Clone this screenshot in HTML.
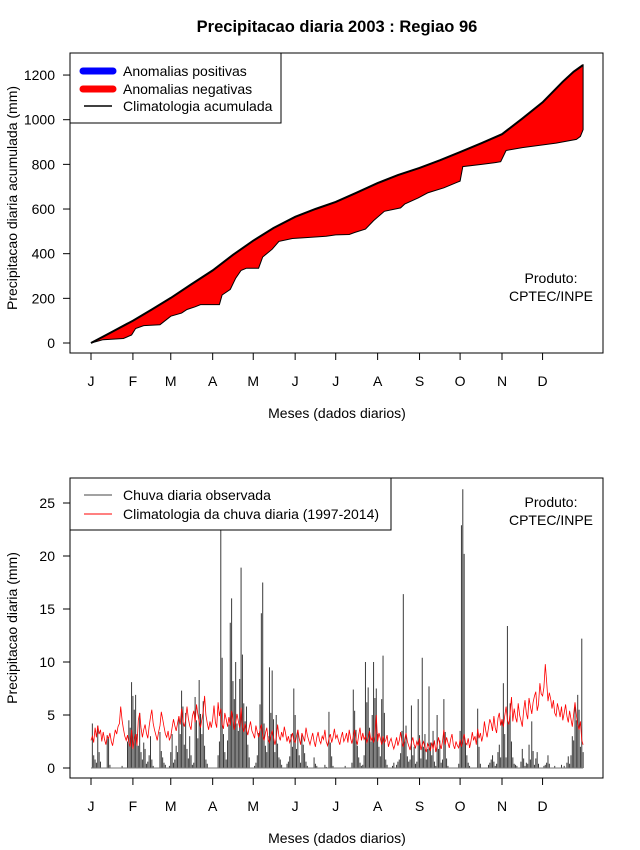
<!DOCTYPE html>
<html><head><meta charset="utf-8"><style>
body{margin:0;background:#fff}
svg{display:block;font-family:"Liberation Sans",sans-serif}
</style></head><body>
<svg id="c" width="640" height="850" xmlns="http://www.w3.org/2000/svg"></svg>
<script>
// ---- data ----
const months = ["J","F","M","A","M","J","J","A","S","O","N","D"];
const monthStartDays = [1,32,60,91,121,152,182,213,244,274,305,335];
const topTicks = [0,200,400,600,800,1000,1200];
const bottomTicks = [0,5,10,15,20,25];
const climCumDays = [1,15,32,46,60,75,91,106,121,136,152,167,182,197,213,228,244,259,274,290,305,320,335,350,358,365];
const climCumVals = [0,45,100,150,202,262,325,395,458,515,565,600,632,672,716,752,784,818,855,895,935,1005,1078,1170,1215,1245];
const obsCumDays = [1,10,25,31,34,40,52,60,68,72,78,82,88,96,98,104,108,112,116,125,128,135,140,150,160,175,182,192,196,204,210,218,230,233,243,250,262,272,274,276,290,300,304,308,320,345,360,363,365];
const obsCumVals = [0,15,20,36,65,78,82,120,134,150,162,172,172,172,215,240,290,325,335,335,385,420,455,468,472,478,484,486,495,510,548,590,605,622,650,672,695,720,725,790,800,808,812,862,875,895,912,925,955];
const obsDaily = [
0,4.2,1.2,0.8,0.5,4,1.5,0.6,0,0,0,0,3.1,2.8,0.3,0,0,0,0,0,0,0,0,0.2,0,0,0,2.5,4.5,3.8,8.1,
6.8,5.5,6.9,3.2,2.1,5.2,1.5,0.8,2.4,1.8,0.4,0.6,1.2,3,0.8,0.2,0,0,0,0,3.4,1.6,1.0,0.5,0.3,0,0,0.2,
1.5,3.2,0.5,0.8,2.1,1.5,4.6,3.2,7.3,5.8,2.2,5.2,1.8,0.9,3.0,1.2,0.3,0.5,6.7,4.5,2.8,8.3,5.1,3.2,6.3,2.1,0.8,0.4,0,0,0,
0,0,0,0,1.2,2.5,27,10.4,3.2,1.5,0.8,2.6,4.1,13.7,16,8.2,6.5,10,4.2,3.5,8.4,18.9,10.7,6.1,4.4,5.8,2.2,1.0,0,0,
0,0.2,0.5,1.2,3.3,6.0,14.6,17.5,4.2,2.1,1.5,3.0,9.5,5.2,9.2,4.6,1.5,5.0,2.3,1.0,0.8,0.3,0,0,0,0.4,0.6,1.1,3.2,2.0,7.5,
5.0,1.8,3.6,1.2,0.5,3.1,2.2,1.4,0.6,0.2,0,0,0,0,1.0,0.4,0.2,0,0,0,0,0,0.3,0.1,0,5.3,2.4,1.1,0.2,0,
0,0,0,0,0,0,0,0.2,0,0,0,0,0.5,7.4,5.4,3.6,2.1,1.0,0.5,0.2,0.3,1.2,10,6.2,7.6,3.8,2.5,5.0,10,6.6,7.5,
3.2,2.0,1.1,6.5,10.6,5.2,0.8,0.3,0,0,0,0.2,0.5,0,0.3,0.6,0.8,1.4,3.5,16.4,2.5,4.0,1.1,0.6,0.8,5.9,1.2,2.0,0.4,0.6,6.5,
3.1,0.9,10.4,2.0,3.2,0.8,1.8,7.7,2.4,1.2,3.5,0.6,0.2,5.0,1.8,2.6,0.5,0.8,6.5,3.4,0.9,0.2,0,0,0,0,0,0,0,0.4,
3.5,22.9,26.3,20.2,2.4,1.2,0.5,0.2,0,0,0,0,0,5.6,2.0,0.4,0,0,0,0,0,0.3,0.5,0.8,1.2,0.6,0.2,0.4,1.5,2.2,1.0,
4.5,8.0,3.2,1.0,13.4,4.2,6.1,2.5,1.0,0.4,0.3,0.2,0,0,0.6,1.8,0.9,0.2,0.5,0.4,2.2,0.8,4.4,1.6,0.3,0.9,1.5,0.4,0,0,
0,0.2,0.3,0.5,1.2,0.4,0,0,0,0.2,0,0,0,0,0.3,0,0.2,0,0.5,1.1,0.4,1.2,3.0,2.6,5.8,4.5,6.9,5.5,2.0,12.2,1.5];
const climDaily = [
2.6,3.0,2.4,3.8,2.9,4.0,3.2,3.6,2.5,3.4,2.7,2.2,3.0,2.8,3.3,2.5,2.1,2.9,3.6,3.2,3.9,4.2,5.8,4.5,3.7,3.0,2.6,3.1,2.4,2.0,3.6,
1.8,2.6,3.2,2.1,4.5,5.2,3.8,2.9,3.6,4.1,3.3,2.8,3.9,4.8,5.5,4.2,3.6,3.1,2.6,3.4,4.0,5.3,4.6,3.9,3.2,2.9,3.5,2.6,
3.0,3.8,4.6,4.0,3.5,4.2,4.9,4.1,5.6,4.4,3.9,4.5,5.8,4.7,4.0,3.6,4.9,5.4,4.3,6.0,5.1,4.4,3.8,4.6,5.3,6.8,5.0,4.2,3.6,4.4,3.8,
4.6,5.9,4.3,3.8,6.2,4.9,5.6,4.1,3.7,5.2,4.6,3.9,4.8,4.0,5.4,4.5,3.6,4.3,5.1,4.4,3.8,5.7,3.9,3.4,4.2,3.6,3.1,3.8,4.4,3.5,
3.2,2.8,4.0,3.4,2.9,3.6,4.1,3.0,2.6,3.3,3.8,2.7,2.4,3.1,3.5,2.9,2.2,2.8,4.1,3.0,2.6,3.4,2.9,3.9,3.2,2.5,3.0,2.4,2.8,3.3,2.6,
2.4,3.0,3.6,2.8,2.2,3.3,2.9,2.5,3.8,3.1,2.6,2.2,2.8,3.3,2.5,2.0,2.9,3.4,2.6,2.3,3.0,2.7,3.6,2.5,2.1,2.8,3.2,2.4,2.9,3.7,
2.8,3.1,2.6,2.2,2.9,3.4,2.5,2.8,3.3,2.4,3.6,2.8,2.3,3.0,3.6,2.7,2.2,3.1,3.8,2.6,3.3,2.7,3.0,2.4,2.8,3.5,2.6,2.9,2.4,3.0,5.0,
2.5,3.3,2.8,2.2,3.0,2.4,2.6,3.1,2.0,2.5,2.8,2.2,1.8,2.3,2.9,2.1,2.6,3.4,2.4,2.0,2.7,3.3,2.5,2.1,1.7,2.4,2.9,2.2,1.9,2.5,2.1,
2.8,1.7,2.2,2.5,1.9,1.5,2.3,2.0,1.6,2.4,1.8,2.6,1.5,2.1,2.9,2.3,1.8,2.5,3.6,2.2,2.9,2.4,1.9,2.7,3.2,2.2,1.8,2.5,2.1,1.9,
2.7,2.0,2.6,3.2,2.4,2.2,2.8,1.9,2.5,3.4,2.6,3.0,2.2,3.7,2.8,3.3,2.5,3.1,4.4,3.5,2.9,3.8,4.6,4.2,3.5,4.9,3.8,3.3,4.7,5.2,4.0,
4.6,3.9,4.9,5.8,4.5,4.1,5.2,6.7,4.4,5.6,4.8,4.3,6.1,5.0,4.5,3.9,5.4,6.4,5.2,4.6,6.6,5.8,5.1,6.2,6.8,7.2,5.4,6.0,8.0,7.0,
6.8,7.6,9.8,8.2,6.3,7.1,6.5,5.6,6.4,5.2,4.9,6.1,5.5,4.8,5.8,4.5,5.2,6.0,4.9,4.3,5.4,4.6,3.9,5.1,6.2,5.0,4.1,3.6,4.4,2.6,2.2];

// ---- helpers ----
const svg = document.getElementById('c');
const NS = 'http://www.w3.org/2000/svg';
function mk(tag, attrs, parent){const e=document.createElementNS(NS,tag);for(const k in attrs)e.setAttribute(k,attrs[k]);(parent||svg).appendChild(e);return e;}
const xDay = d => 91 + (d-1)*1.352;
const yTop = v => 343 - v*0.2233;
const yBot = v => 768 - v*10.6;
const FS = 14;

// title
let t = mk('text',{x:337,y:32,'text-anchor':'middle','font-size':16.5,'font-weight':'bold'});
t.textContent='Precipitacao diaria 2003 : Regiao 96';



function drawAxes(top, bottom, yfun, ticks, ylabel, ylabelY, prefix){
  const box = mk('rect',{x:70,y:top,width:533,height:bottom-top,fill:'none',stroke:'#000','stroke-width':1});
  
  
  ticks.forEach(v=>{
    const y=yfun(v);
    mk('line',{x1:63,x2:70,y1:y,y2:y,stroke:'#000'});
    const l=mk('text',{x:55,y:y+5,'text-anchor':'end','font-size':FS});
    l.textContent=v;
    
    
  });
  months.forEach((m,i)=>{
    const x=xDay(monthStartDays[i]);
    mk('line',{x1:x,x2:x,y1:bottom,y2:bottom+7,stroke:'#000'});
    const l=mk('text',{x:x,y:bottom+33,'text-anchor':'middle','font-size':FS});
    l.textContent=m;
    
    
  });
  const xl=mk('text',{x:337,y:bottom+65,'text-anchor':'middle','font-size':FS});
  xl.textContent='Meses (dados diarios)';
  
  
  const yl=mk('text',{x:0,y:0,'text-anchor':'middle','font-size':FS,transform:`translate(17,${ylabelY}) rotate(-90)`});
  yl.textContent=ylabel;
  
  
}

// ---- top chart ----
drawAxes(53,353,yTop,topTicks,'Precipitacao diaria acumulada (mm)',198,'top');
let pts=[];
climCumDays.forEach((d,i)=>pts.push(xDay(d).toFixed(1)+','+yTop(climCumVals[i]).toFixed(1)));
for(let i=obsCumDays.length-1;i>=0;i--)pts.push(xDay(obsCumDays[i]).toFixed(1)+','+yTop(obsCumVals[i]).toFixed(1));
const area=mk('polygon',{points:pts.join(' '),fill:'#ff0000',stroke:'#000','stroke-width':1});


const climLine=mk('polyline',{points:climCumDays.map((d,i)=>xDay(d).toFixed(1)+','+yTop(climCumVals[i]).toFixed(1)).join(' '),fill:'none',stroke:'#000','stroke-width':2});



// top legend
const lg1=mk('g',{});


mk('rect',{x:70,y:53,width:211,height:70,fill:'#fff',stroke:'#000'},lg1);
mk('line',{x1:83,x2:113,y1:71,y2:71,stroke:'#0000ff','stroke-width':7,'stroke-linecap':'round'},lg1);
mk('line',{x1:83,x2:113,y1:89,y2:89,stroke:'#ff0000','stroke-width':7,'stroke-linecap':'round'},lg1);
mk('line',{x1:84,x2:112,y1:106,y2:106,stroke:'#000','stroke-width':1.5},lg1);
[['Anomalias positivas',76],['Anomalias negativas',94],['Climatologia acumulada',111]].forEach(a=>{
  const e=mk('text',{x:123,y:a[1],'font-size':FS},lg1);e.textContent=a[0];
  
  
});
function produto(y,name){
  const g=mk('text',{x:551,y:y,'text-anchor':'middle','font-size':FS});
  
  
  const a=mk('tspan',{x:551},g);a.textContent='Produto:';
  const b=mk('tspan',{x:551,dy:18},g);b.textContent='CPTEC/INPE';
}
produto(283,'top-product-credit');

// ---- bottom chart ----
drawAxes(478,778,yBot,bottomTicks,'Precipitacao diaria (mm)',628,'bottom');
const clipR=mk('clipPath',{id:'clipb'});
mk('rect',{x:70,y:478,width:533,height:300},clipR);
const barsG=mk('g',{'clip-path':'url(#clipb)'});


obsDaily.forEach((v,i)=>{
  if(v<=0) return;
  const x=xDay(i+1);
  const b=mk('line',{x1:x,x2:x,y1:yBot(0),y2:yBot(v),stroke:'#3a3a3a','stroke-width':1},barsG);
  
  
});
mk('line',{x1:xDay(1),x2:xDay(obsDaily.length),y1:yBot(0),y2:yBot(0),stroke:'#777','stroke-width':1});
const cl=mk('polyline',{points:climDaily.map((v,i)=>xDay(i+1).toFixed(1)+','+yBot(v).toFixed(1)).join(' '),fill:'none',stroke:'#ff0000','stroke-width':0.8});



const lg2=mk('g',{});


mk('rect',{x:70,y:478,width:321,height:52,fill:'#fff',stroke:'#000'},lg2);
mk('line',{x1:84,x2:112,y1:495,y2:495,stroke:'#444'},lg2);
mk('line',{x1:84,x2:112,y1:514,y2:514,stroke:'#ff0000'},lg2);
[['Chuva diaria observada',500],['Climatologia da chuva diaria (1997-2014)',519]].forEach(a=>{
  const e=mk('text',{x:123,y:a[1],'font-size':FS},lg2);e.textContent=a[0];
  
  
});
produto(507,'bottom-product-credit');
</script>
</body></html>
